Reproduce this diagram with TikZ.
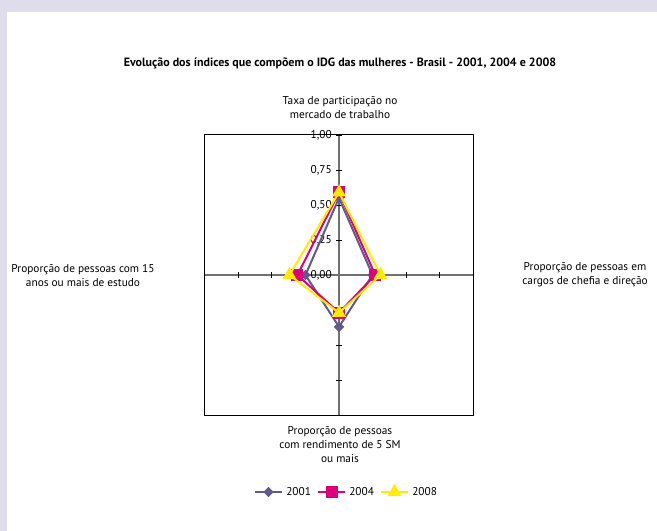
\documentclass[tikz,border=0pt]{standalone}
\usepackage{fontspec}
\setmainfont{PT Sans}
\usetikzlibrary{shapes.geometric}

\definecolor{serieA}{RGB}{98,90,138}
\definecolor{serieB}{RGB}{222,0,122}
\definecolor{serieC}{RGB}{255,236,0}
\definecolor{fundo}{RGB}{223,220,236}
\definecolor{eixo}{RGB}{112,112,112}

\tikzset{
  rotulo/.style={font=\fontsize{8.5}{10.5}\selectfont,align=center,inner sep=0pt},
  valor/.style={font=\fontsize{8.5}{10}\selectfont,anchor=east,inner sep=0pt},
  linhaserie/.style={line width=1.5pt},
  marcaA/.style={diamond,fill=serieA,inner sep=0pt,minimum size=8pt},
  marcaB/.style={rectangle,fill=serieB,inner sep=0pt,minimum size=9pt},
  marcaC/.style={regular polygon,regular polygon sides=3,fill=serieC,inner sep=0pt,minimum size=12pt},
}

\begin{document}
\begin{tikzpicture}[x=0.75pt,y=0.75pt,yscale=-1,xscale=1]
\fill[fundo] (0,0) rectangle (657,531);
\fill[white] (7,12) rectangle (657,531);
\useasboundingbox (0,0) rectangle (657,531);

\draw (340,63) node[rotulo,font=\bfseries\fontsize{9}{11}\selectfont] (titulo) {Evolução dos índices que compõem o IDG das mulheres - Brasil - 2001, 2004 e 2008};

\draw[line width=0.75pt] (204,135) rectangle (473,415);
\coordinate (centro) at (339,275);
\coordinate (topo) at (339,135);
\coordinate (base) at (339,415);
\coordinate (esq) at (204,275);
\coordinate (dir) at (473,275);
\draw[eixo,line width=1pt] (esq) -- (dir);
\draw[eixo,line width=1pt] (topo) -- (base);
\foreach \k in {1,...,4}{
  \draw[line width=0.6pt] ({339+33.6*\k},272) -- ({339+33.6*\k},278);
  \draw[line width=0.6pt] ({339-33.6*\k},272) -- ({339-33.6*\k},278);
  \draw[line width=0.6pt] (336,{275+35*\k}) -- (342,{275+35*\k});
  \draw[line width=0.6pt] (336,{275-35*\k}) -- (342,{275-35*\k});
}
\foreach \v/\r in {0/{0,00},1/{0,25},2/{0,50},3/{0,75},4/{1,00}}
  \node[valor] (v\v) at (332,{275-35*\v}) {\r};

\foreach \nome/\cor/\t/\d/\b/\e in {A/serieA/0.55/0.25/0.37/0.25,B/serieB/0.59/0.27/0.27/0.31,C/serieC/0.59/0.31/0.27/0.37}{
  \coordinate (\nome t) at (339,{275-140*\t});
  \coordinate (\nome d) at ({339+134*\d},275);
  \coordinate (\nome b) at (339,{275+140*\b});
  \coordinate (\nome e) at ({339-134*\e},275);
  \draw[linhaserie,\cor] (\nome t) -- (\nome d) -- (\nome b) -- (\nome e) -- cycle;
  \foreach \p in {t,d,b,e}
    \node[marca\nome] (m\nome\p) at (\nome\p) {};
}

\node[rotulo] (eixotopo) at (340,108) {Taxa de participação no\\mercado de trabalho};
\node[rotulo] (eixoesq) at (83,276) {Proporção de pessoas com 15\\anos ou mais de estudo};
\node[rotulo] (eixodir) at (585,275) {Proporção de pessoas em\\cargos de chefia e direção};
\node[rotulo] (eixobase) at (340,445) {Proporção de pessoas\\com rendimento de 5 SM\\ou mais};

\foreach \nome/\cor/\x/\ano in {A/serieA/255/2001,B/serieB/318/2004,C/serieC/381/2008}{
  \coordinate (l\nome) at (\x,492);
  \coordinate (r\nome) at (\x+27,492);
  \draw[linhaserie,\cor] (l\nome) -- (r\nome);
  \node[marca\nome] (lm\nome) at (\x+13.5,492) {};
  \node[rotulo,anchor=west] (ano\nome) at (\x+31,492) {\ano};
}
\end{tikzpicture}
\end{document}
